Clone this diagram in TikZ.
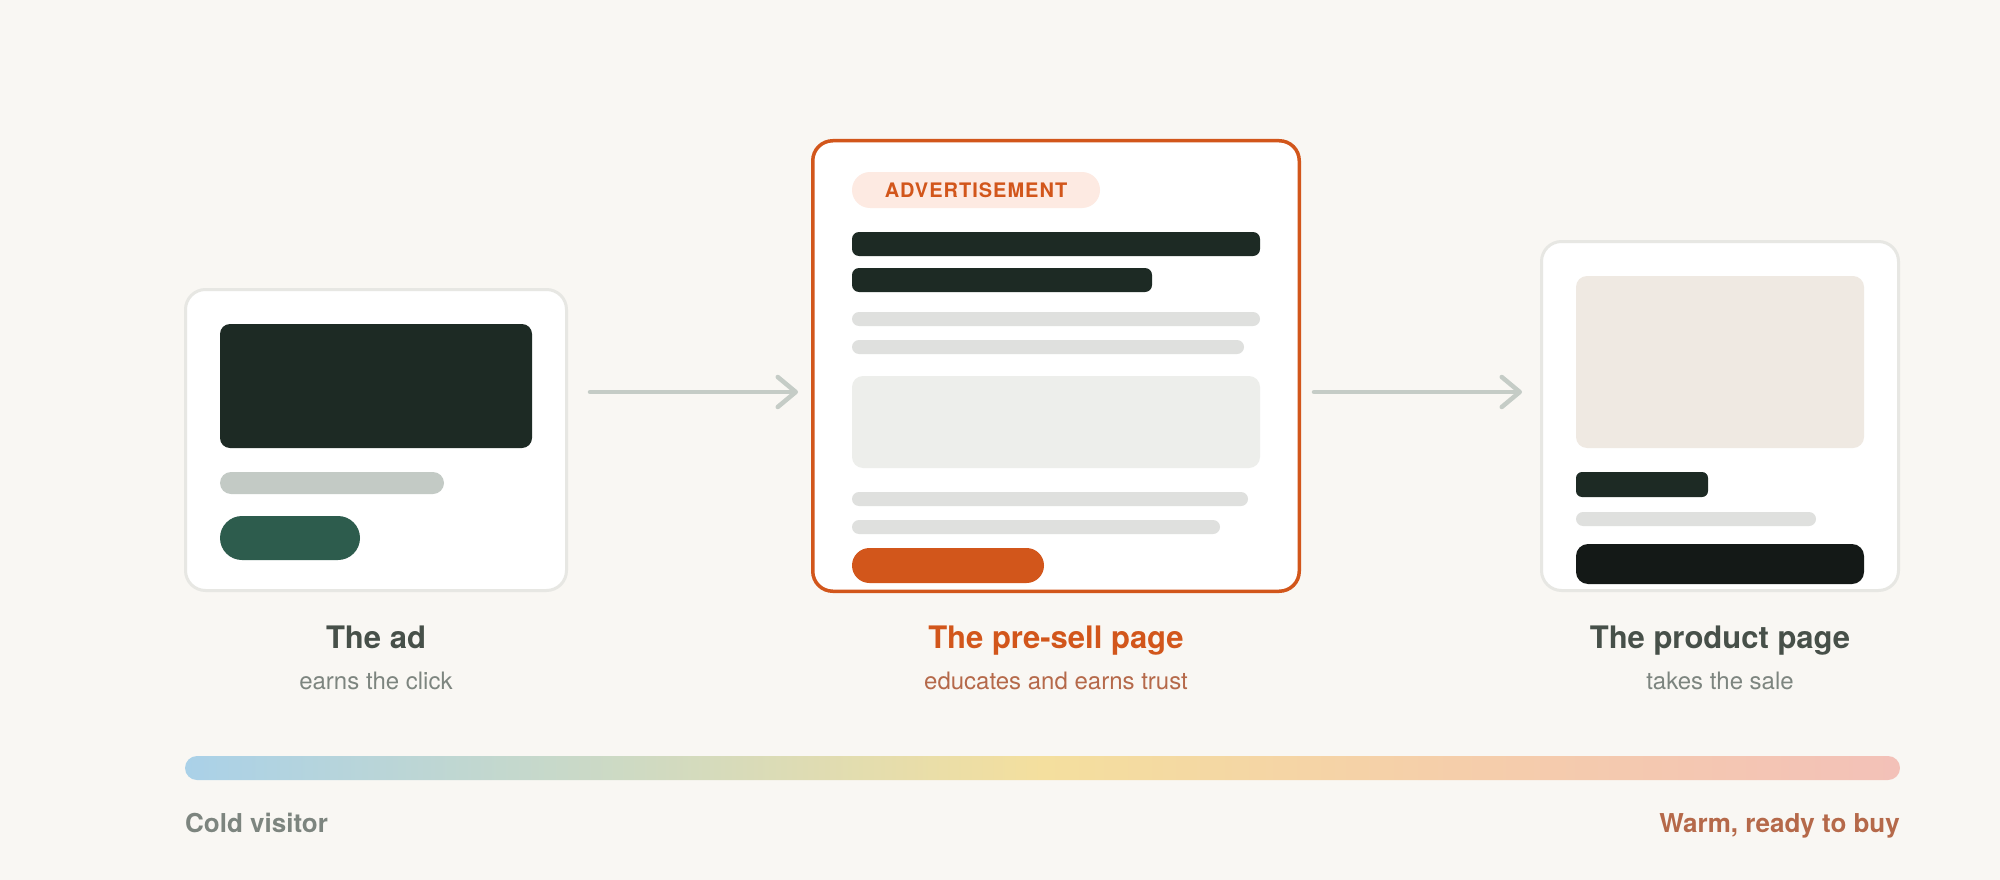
\documentclass[tikz,border=0pt]{standalone}
\usepackage{fontspec}
\setmainfont{TeX Gyre Heros}
\usetikzlibrary{arrows.meta}

\definecolor{paper}{HTML}{F9F7F3}
\definecolor{cardline}{HTML}{E7E7E3}
\definecolor{ink}{HTML}{1D2A24}
\definecolor{mist}{HTML}{C3CAC5}
\definecolor{pine}{HTML}{2D5C4D}
\definecolor{rust}{HTML}{D2561B}
\definecolor{blushtag}{HTML}{FDEAE2}
\definecolor{haze}{HTML}{DFE0DE}
\definecolor{fog}{HTML}{EDEEEB}
\definecolor{sand}{HTML}{EFE9E2}
\definecolor{jet}{HTML}{141917}
\definecolor{arrowgrey}{HTML}{C5CCC6}
\definecolor{titlegrey}{HTML}{475049}
\definecolor{subgrey}{HTML}{7D857F}
\definecolor{rustsub}{HTML}{B5694A}
\definecolor{coldblue}{HTML}{AAD1E8}
\definecolor{sage}{HTML}{C8D9C9}
\definecolor{butter}{HTML}{F4DF9E}
\definecolor{apricot}{HTML}{F5CEAA}
\definecolor{blush}{HTML}{F3C1B8}

\pgfdeclarehorizontalshading{warmth}{100bp}{color(0bp)=(coldblue); color(25bp)=(coldblue); color(36bp)=(sage); color(50bp)=(butter); color(62bp)=(apricot); color(75bp)=(blush); color(100bp)=(blush)}

\begin{document}
\begin{tikzpicture}[x=1pt,y=1pt]
  \tikzstyle{every node}+=[inner sep=0pt]
  \tikzstyle{card}=[draw=cardline, line width=3pt, fill=white, rounded corners=20pt]
  \tikzstyle{flow}=[draw=arrowgrey, line width=4.5pt, line cap=round, -{Straight Barb[length=18pt,width=30pt,round]}]
  \tikzstyle{title}=[anchor=base, font=\bfseries\fontsize{31}{37}\selectfont, text=titlegrey]
  \tikzstyle{sub}=[anchor=base, font=\fontsize{24}{29}\selectfont, text=subgrey]
  \tikzstyle{scale label}=[anchor=base, font=\bfseries\fontsize{26}{31}\selectfont]
  \fill [paper] (0,0) rectangle (2000,-880);
  \useasboundingbox (0,0) rectangle (2000,-880);
  \node [card, minimum width=381pt, minimum height=301pt] (ad) at (376,-440) {};
  \node [card, draw=rust, line width=3.5pt, minimum width=486.5pt, minimum height=450.5pt] (presell) at (1056,-366) {};
  \node [card, minimum width=357pt, minimum height=349pt] (product) at (1720,-416) {};
  \fill [ink, rounded corners=10pt] (220,-324) rectangle (532,-448);
  \fill [mist, rounded corners=11pt] (220,-472) rectangle (444,-494);
  \fill [pine, rounded corners=22pt] (220,-516) rectangle (360,-560);
  \node [fill=blushtag, rounded corners=18pt, minimum width=248pt, minimum height=36pt, text=rust, font=\bfseries\fontsize{20}{24}\selectfont\addfontfeature{LetterSpace=5}] (adtag) at (976,-190) {ADVERTISEMENT};
  \fill [ink, rounded corners=7pt] (852,-232) rectangle (1260,-256);
  \fill [ink, rounded corners=7pt] (852,-268) rectangle (1152,-292);
  \fill [haze, rounded corners=7pt] (852,-312) rectangle (1260,-326);
  \fill [haze, rounded corners=7pt] (852,-340) rectangle (1244,-354);
  \fill [fog, rounded corners=11pt] (852,-376) rectangle (1260,-468);
  \fill [haze, rounded corners=7pt] (852,-492) rectangle (1248,-506);
  \fill [haze, rounded corners=7pt] (852,-520) rectangle (1220,-534);
  \fill [rust, rounded corners=17.5pt] (852,-548) rectangle (1044,-583);
  \fill [sand, rounded corners=11pt] (1576,-276) rectangle (1864,-448);
  \fill [ink, rounded corners=6pt] (1576,-472) rectangle (1708,-497);
  \fill [haze, rounded corners=7pt] (1576,-512) rectangle (1816,-526);
  \fill [jet, rounded corners=12pt] (1576,-544) rectangle (1864,-584);
  \coordinate (lane) at (0,-392);
  \draw [flow, shorten <=22pt, shorten >=13pt] (ad.east |- lane) -- (presell.west |- lane);
  \draw [flow, shorten <=13pt, shorten >=18pt] (presell.east |- lane) -- (product.west |- lane);
  \node [title] (adname) at (376,-648) {The ad};
  \node [sub] (adnote) at (376,-689) {earns the click};
  \node [title, text=rust] (presellname) at (1056,-648) {The pre-sell page};
  \node [sub, text=rustsub] (presellnote) at (1056,-689) {educates and earns trust};
  \node [title] (productname) at (1720,-648) {The product page};
  \node [sub] (productnote) at (1720,-689) {takes the sale};
  \shade [shading=warmth, rounded corners=12pt] (185,-756) rectangle (1900,-780);
  \node [scale label, anchor=base west, text=subgrey] (cold) at (185,-832) {Cold visitor};
  \node [scale label, anchor=base east, text=rustsub] (warm) at (1900,-832) {Warm, ready to buy};
\end{tikzpicture}
\end{document}
